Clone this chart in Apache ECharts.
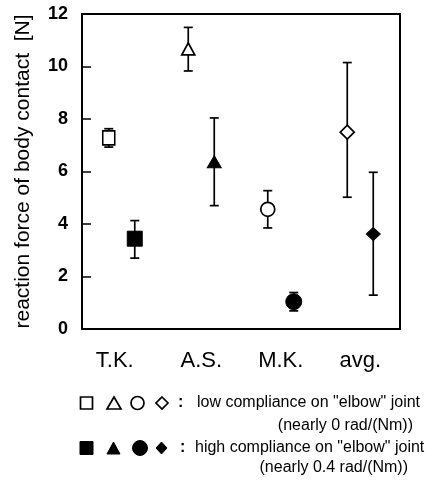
<!DOCTYPE html>
<html>
<head>
<meta charset="utf-8">
<script src="https://cdn.jsdelivr.net/npm/echarts@6/dist/echarts.min.js"></script>
<style>
  html, body { margin: 0; padding: 0; background: #fff; }
  #chart { width: 435px; height: 487px; }
</style>
</head>
<body>
<div id="chart"></div>
<script>
const categories = ['T.K.', 'A.S.', 'M.K.', 'avg.'];
const symbols = ['rect', 'triangle', 'circle', 'diamond'];

// low compliance (open markers)
const lowMean = [7.28, 10.67, 4.56, 7.5];
const lowUpper = [7.63, 11.49, 5.27, 10.15];
const lowLower = [6.93, 9.83, 3.85, 5.02];

// high compliance (filled markers)
const highMean = [3.44, 6.37, 1.04, 3.62];
const highUpper = [4.13, 8.04, 1.39, 5.97];
const highLower = [2.70, 4.70, 0.69, 1.29];

const yTicks = [0, 2, 4, 6, 8, 10, 12];

const FONT = 'Liberation Sans, Arial, Helvetica, sans-serif';
const OFFSET = 13;
const openSizes = [[12, 14], [13, 12], 14, [14, 14]];
const filledSizes = [[15, 15], [14, 12], 16, [14, 13]];

const chart = echarts.init(document.getElementById('chart'));

function errorBars(upper, lower, dx) {
  return {
    type: 'custom',
    z: 1,
    silent: true,
    data: categories.map((c, i) => [i, upper[i], lower[i]]),
    renderItem: (params, api) => {
      const top = api.coord([api.value(0), api.value(1)]);
      const bot = api.coord([api.value(0), api.value(2)]);
      const x = top[0] + dx;
      const style = { stroke: '#000', lineWidth: 1.7 };
      return {
        type: 'group',
        children: [
          { type: 'line', shape: { x1: x, y1: top[1], x2: x, y2: bot[1] }, style },
          { type: 'line', shape: { x1: x - 4.5, y1: top[1], x2: x + 4.5, y2: top[1] }, style },
          { type: 'line', shape: { x1: x - 4.5, y1: bot[1], x2: x + 4.5, y2: bot[1] }, style }
        ]
      };
    }
  };
}

function markers(values, dx, filled, sizes) {
  return {
    type: 'scatter',
    z: 3,
    symbolOffset: [dx, 0],
    data: values.map((v, i) => ({
      value: [i, v],
      symbol: symbols[i],
      symbolSize: sizes[i]
    })),
    itemStyle: filled
      ? { color: '#000', borderColor: '#000', borderWidth: 1, opacity: 1 }
      : { color: '#fff', borderColor: '#000', borderWidth: 1.7, opacity: 1 }
  };
}

const textStyle = { fill: '#000', font: '16px ' + FONT };

const option = {
  animation: false,
  backgroundColor: '#fff',
  grid: {
    left: 82, right: 35, top: 14, bottom: 158,
    show: true, borderColor: '#000', borderWidth: 2
  },
  xAxis: {
    type: 'category',
    data: categories.map((c, i) => i === 0
      ? { value: c, textStyle: { padding: [0, 14, 0, 0] } }
      : c),
    axisLine: { show: true, lineStyle: { color: '#000', width: 2 } },
    axisTick: { show: false },
    axisLabel: { color: '#000', fontSize: 22, fontFamily: FONT, margin: 21 },
    splitLine: { show: false }
  },
  yAxis: {
    type: 'value',
    min: 0, max: 12, interval: 2,
    name: 'reaction force of body contact  [N]',
    nameLocation: 'middle',
    nameGap: 48,
    nameTextStyle: { color: '#000', fontSize: 21, fontFamily: FONT },
    axisLine: { show: true, lineStyle: { color: '#000', width: 2 } },
    axisTick: { show: true, inside: true, length: 9, lineStyle: { color: '#000', width: 1.5 } },
    axisLabel: {
      color: '#000', fontSize: 18, fontWeight: 'bold', fontFamily: FONT, margin: 14,
      formatter: v => yTicks.includes(v) ? String(v) : ''
    },
    splitLine: { show: false }
  },
  series: [
    errorBars(lowUpper, lowLower, -OFFSET),
    errorBars(highUpper, highLower, OFFSET),
    markers(lowMean, -OFFSET, false, openSizes),
    markers(highMean, OFFSET, true, filledSizes)
  ],
  graphic: [
    // legend row 1: open symbols
    { type: 'rect', shape: { x: 80.5, y: 397, width: 12, height: 12 }, style: { fill: '#fff', stroke: '#000', lineWidth: 1.7 } },
    { type: 'polygon', shape: { points: [[114, 397], [121, 409], [107, 409]] }, style: { fill: '#fff', stroke: '#000', lineWidth: 1.7 } },
    { type: 'circle', shape: { cx: 137.5, cy: 403, r: 6.5 }, style: { fill: '#fff', stroke: '#000', lineWidth: 1.7 } },
    { type: 'polygon', shape: { points: [[162, 397], [168, 403], [162, 409], [156, 403]] }, style: { fill: '#fff', stroke: '#000', lineWidth: 1.7 } },
    { type: 'text', x: 178, y: 403, style: { text: ':', fill: '#000', font: 'bold 16px ' + FONT, verticalAlign: 'middle' } },
    { type: 'text', x: 197, y: 403, style: Object.assign({ text: 'low compliance on "elbow" joint', verticalAlign: 'middle', align: 'left' }, textStyle) },
    { type: 'text', x: 413, y: 426, style: Object.assign({ text: '(nearly 0 rad/(Nm))', verticalAlign: 'middle', align: 'right' }, textStyle) },
    // legend row 2: filled symbols
    { type: 'rect', shape: { x: 80, y: 441.5, width: 13, height: 13 }, style: { fill: '#000', stroke: '#000', lineWidth: 1 } },
    { type: 'polygon', shape: { points: [[113.5, 442], [120, 454], [107, 454]] }, style: { fill: '#000', stroke: '#000', lineWidth: 1 } },
    { type: 'circle', shape: { cx: 140, cy: 448, r: 7.5 }, style: { fill: '#000', stroke: '#000', lineWidth: 1 } },
    { type: 'polygon', shape: { points: [[161.5, 442], [167, 448], [161.5, 454], [156, 448]] }, style: { fill: '#000', stroke: '#000', lineWidth: 1 } },
    { type: 'text', x: 180, y: 448, style: { text: ':', fill: '#000', font: 'bold 16px ' + FONT, verticalAlign: 'middle' } },
    { type: 'text', x: 195, y: 448, style: Object.assign({ text: 'high compliance on "elbow" joint', verticalAlign: 'middle', align: 'left' }, textStyle) },
    { type: 'text', x: 408, y: 468, style: Object.assign({ text: '(nearly 0.4 rad/(Nm))', verticalAlign: 'middle', align: 'right' }, textStyle) }
  ]
};

chart.setOption(option);
</script>
</body>
</html>
